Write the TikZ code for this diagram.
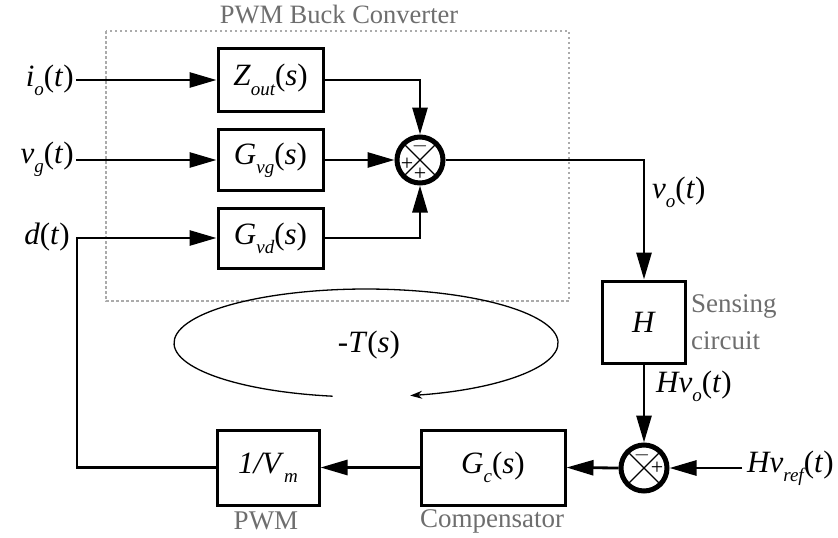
\documentclass[tikz,border=0pt]{standalone}
\usepackage{fontspec}
\setmainfont{Liberation Serif}
\usetikzlibrary{arrows.meta}

% italic variable with a lowered, smaller subscript
\newcommand\sbs[1]{\raisebox{-0.3em}{\fontsize{19}{19}\selectfont\itshape #1}}
\newcommand\vv[1]{\textit{#1}}

\definecolor{labelgray}{HTML}{6E6E6E}
\definecolor{framegray}{HTML}{ABABAB}

\begin{document}
\begin{tikzpicture}[x=1pt,y=-1pt,
  blk/.style={draw, line width=3pt, inner sep=0pt,
    font=\fontsize{31}{33}\selectfont},
  sumj/.style={circle, draw, line width=5pt, minimum size=46pt, inner sep=0pt},
  sgn/.style={inner sep=0pt, font=\fontsize{22}{22}\selectfont},
  lab/.style={inner sep=2pt, font=\fontsize{31}{33}\selectfont},
  glab/.style={inner sep=0pt, text=labelgray, font=\fontsize{27}{29}\selectfont},
  wire/.style={line width=2.8pt, line join=miter},
  arr/.style={wire, -{Triangle[length=27pt,width=15pt]}},
  loop/.style={line width=1.3pt, -{Stealth[length=12pt,width=8pt]}}
]
\useasboundingbox (0,0) rectangle (838,538);

% converter frame
\draw[framegray, line width=1.2pt, dash pattern=on 2.5pt off 2.5pt]
  (106,31) rectangle (569,301);
\node[glab, font=\fontsize{26.5}{28}\selectfont] (conv) at (339,15) {PWM Buck Converter};

% plant transfer functions
\node[blk, minimum width=105pt, minimum height=63pt] (zo) at (270.5,80) {\vv{Z}\sbs{out}(\vv{s})};
\node[blk, minimum width=105pt, minimum height=61pt] (gvg) at (270.5,160) {\vv{G}\sbs{vg}(\vv{s})};
\node[blk, minimum width=105pt, minimum height=60pt] (gvd) at (270.5,238) {\vv{G}\sbs{vd}(\vv{s})};

% inputs
\node[lab, anchor=east] (io) at (76,80) {\vv{i}\sbs{o}(\vv{t})};
\node[lab, anchor=east] (vg) at (76,159) {\vv{v}\sbs{g}(\vv{t})};
\node[lab, anchor=east] (dt) at (72,237) {\vv{d}(\vv{t})};

% summing junction of the plant
\node[sumj] (s1) at (420,160) {};
\draw[line width=1.3pt] (s1.north west) -- (s1.south east);
\draw[line width=1.3pt] (s1.north east) -- (s1.south west);
\node[sgn] (s1m) at (420,146) {$-$};
\node[sgn] (s1a) at (407,164) {+};
\node[sgn] (s1b) at (420,174) {+};

% sensing
\node[blk, minimum width=83pt, minimum height=82pt] (h) at (644,322) {\vv{H}};
\node[glab, anchor=west] (sens1) at (691,306) {Sensing};
\node[glab, anchor=west] (sens2) at (691,341) {circuit};

% error junction
\node[sumj] (s2) at (644,468) {};
\draw[line width=1.3pt] (s2.north west) -- (s2.south east);
\draw[line width=1.3pt] (s2.north east) -- (s2.south west);
\node[sgn] (s2m) at (642,455) {$-$};
\node[sgn] (s2p) at (657,468) {+};

% compensator and modulator
\node[blk, minimum width=144pt, minimum height=75pt] (gc) at (493,467.5) {\vv{G}\sbs{c}(\vv{s})};
\node[blk, minimum width=102pt, minimum height=75pt] (pw) at (268,467.5) {\vv{1/V}\sbs{m}};
\node[glab] (pwl) at (266,521) {PWM};
\node[glab] (gcl) at (492,521) {Compensator};

% signal labels
\node[lab, anchor=west] (vo) at (650,192) {\vv{v}\sbs{o}(\vv{t})};
\node[lab, anchor=west] (hvo) at (654,386) {\vv{Hv}\sbs{o}(\vv{t})};
\node[lab, anchor=west, inner sep=5pt] (hvr) at (742,468) {\vv{Hv}\sbs{ref}(\vv{t})};

% connectors
\draw[arr] (io.east) -- (zo.west);
\draw[arr] (vg.east |- gvg.west) -- (gvg.west);
\draw[arr] (zo.east) -| (s1.north);
\draw[arr] (gvg.east) -- (s1.west);
\draw[arr] (gvd.east) -| (s1.south);
\draw[arr] (s1.east) -| (h.north);
\draw[arr] (h.south) -- (s2.north);
\draw[arr] (hvr.west) -- (s2.east);
\draw[arr] (s2.west) -- (gc.east);
\draw[arr] (gc.west) -- (pw.east);
\coordinate (dc) at (77,238);
\draw[arr] (pw.west) -| (dc) -- (gvd.west);

% loop gain
\draw[loop] (332.7,396.2) arc[start angle=100, end angle=436.7, x radius=192, y radius=54];
\node[lab, font=\fontsize{31}{33}\selectfont] (tl) at (369,345) {-\vv{T}(\vv{s})};
\end{tikzpicture}
\end{document}
